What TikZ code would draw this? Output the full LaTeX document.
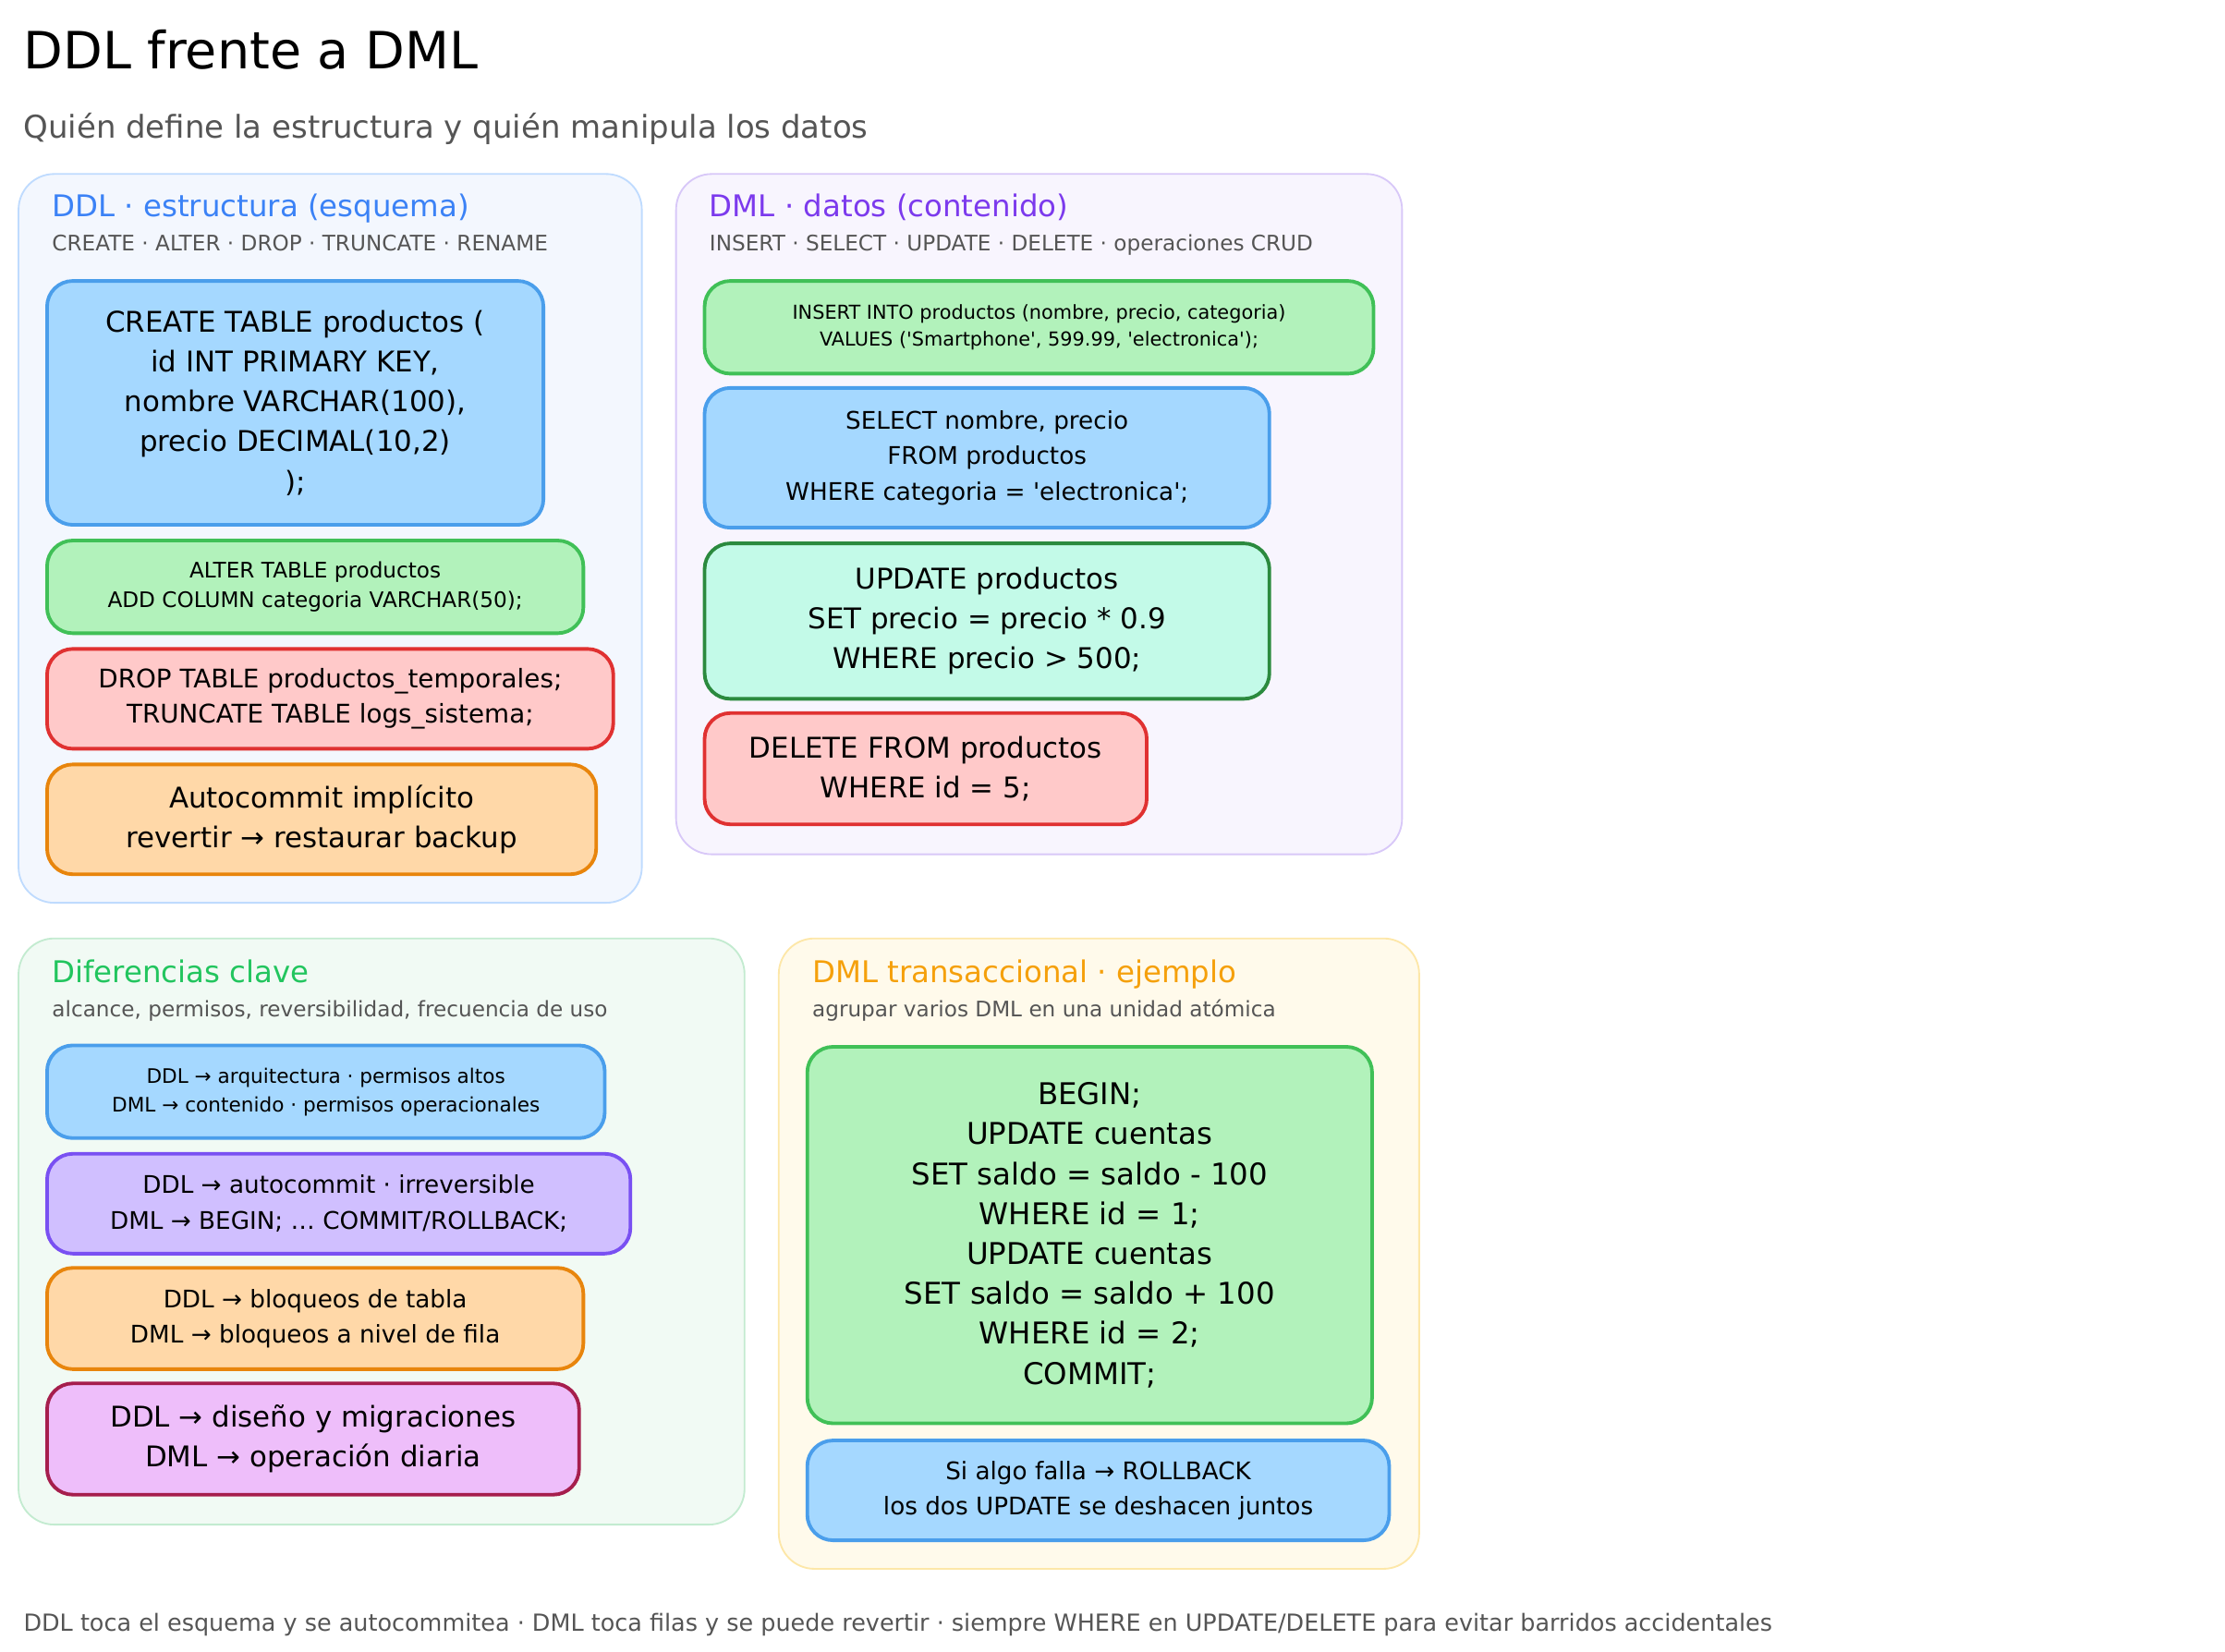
\documentclass[tikz,border=0pt]{standalone}
\usepackage{fontspec}
\setmainfont{DejaVu Sans}
\usepackage{xcolor}
\usetikzlibrary{positioning}

\definecolor{bluefill}{HTML}{A5D8FF}\definecolor{blueline}{HTML}{4A9EEB}
\definecolor{greenfill}{HTML}{B2F2BB}\definecolor{greenline}{HTML}{40C057}
\definecolor{redfill}{HTML}{FFC9C9}\definecolor{redline}{HTML}{E03131}
\definecolor{orangefill}{HTML}{FFD8A8}\definecolor{orangeline}{HTML}{E8850C}
\definecolor{tealfill}{HTML}{C3FAE8}\definecolor{tealline}{HTML}{2B8A3E}
\definecolor{purplefill}{HTML}{D0BFFF}\definecolor{purpleline}{HTML}{7950F2}
\definecolor{pinkfill}{HTML}{EEBEFA}\definecolor{pinkline}{HTML}{A61E4D}
\definecolor{textgray}{HTML}{555555}
\definecolor{ddlbg}{HTML}{F3F7FE}\definecolor{ddledge}{HTML}{BFDBFE}
\definecolor{dmlbg}{HTML}{F8F5FE}\definecolor{dmledge}{HTML}{D8C8F8}
\definecolor{difbg}{HTML}{F1FAF4}\definecolor{difedge}{HTML}{C3EBD0}
\definecolor{txbg}{HTML}{FFFAEB}\definecolor{txedge}{HTML}{FDE7A8}
\definecolor{ddlhead}{HTML}{3B82F6}\definecolor{dmlhead}{HTML}{7C3AED}
\definecolor{difhead}{HTML}{22C55E}\definecolor{txhead}{HTML}{F5A00B}

\tikzset{
  panel/.style 2 args={draw=#2, fill=#1, line width=1.2pt, rounded corners=25pt},
  box/.style={draw=#1line, fill=#1fill, line width=2.5pt, rounded corners=18pt,
              align=center, inner sep=0pt},
  head/.style={anchor=base west, text=#1, font=\fontsize{21}{25}\selectfont},
  sub/.style={anchor=base west, text=textgray, font=\fontsize{15}{18}\selectfont},
}

\newcommand{\fs}[2]{\fontsize{#1}{#2}\selectfont}

\begin{document}
\begin{tikzpicture}[x=1pt,y=-1pt]
  \useasboundingbox (0,0) rectangle (1560,1158);

  % Title
  \node[anchor=base west, font=\fs{36}{40}] (title) at (13,48) {DDL frente a DML};
  \node[anchor=base west, font=\fs{22}{26}, text=textgray] (subtitle) at (13,97)
    {Quién define la estructura y quién manipula los datos};

  % DDL panel
  \draw[panel={ddlbg}{ddledge}] (13,122) rectangle (450,633);
  \node[head=ddlhead] (ddlhead) at (33,152) {DDL · estructura (esquema)};
  \node[sub] (ddlsub) at (33,176) {CREATE · ALTER · DROP · TRUNCATE · RENAME};
  \node[box=blue, minimum width=348, minimum height=171, font=\fs{20}{28}] (create) at (207,282.5)
    {CREATE TABLE productos (\\ id INT PRIMARY KEY,\\ nombre VARCHAR(100),\\ precio DECIMAL(10,2)\\ );};
  \node[box=green, minimum width=376, minimum height=65, font=\fs{15}{21}] (alter) at (221,411.5)
    {ALTER TABLE productos\\ ADD COLUMN categoria VARCHAR(50);};
  \node[box=red, minimum width=397, minimum height=70, font=\fs{18}{25}] (drop) at (231.5,490)
    {DROP TABLE productos\_temporales;\\ TRUNCATE TABLE logs\_sistema;};
  \node[box=orange, minimum width=385, minimum height=77, font=\fs{20}{28}] (autocommit) at (225.5,574.5)
    {Autocommit implícito\\ revertir → restaurar backup};

  % DML panel
  \draw[panel={dmlbg}{dmledge}] (474,122) rectangle (983,599);
  \node[head=dmlhead] (dmlhead) at (494,152) {DML · datos (contenido)};
  \node[sub] (dmlsub) at (494,176) {INSERT · SELECT · UPDATE · DELETE · operaciones CRUD};
  \node[box=green, minimum width=469, minimum height=65, font=\fs{13.5}{19}] (insert) at (728.5,229.5)
    {INSERT INTO productos (nombre, precio, categoria)\\ VALUES (\textquotesingle Smartphone\textquotesingle, 599.99, \textquotesingle electronica\textquotesingle);};
  \node[box=blue, minimum width=396, minimum height=98, font=\fs{17}{25}] (select) at (692,321)
    {SELECT nombre, precio\\ FROM productos\\ WHERE categoria = \textquotesingle electronica\textquotesingle;};
  \node[box=teal, minimum width=396, minimum height=109, font=\fs{20}{28}] (update) at (692,435.5)
    {UPDATE productos\\ SET precio = precio * 0.9\\ WHERE precio > 500;};
  \node[box=red, minimum width=310, minimum height=78, font=\fs{20}{28}] (delete) at (649,539)
    {DELETE FROM productos\\ WHERE id = 5;};

  % Diferencias panel
  \draw[panel={difbg}{difedge}] (13,658) rectangle (522,1069);
  \node[head=difhead] (difhead) at (33,689) {Diferencias clave};
  \node[sub] (difsub) at (33,713) {alcance, permisos, reversibilidad, frecuencia de uso};
  \node[box=blue, minimum width=391, minimum height=65, font=\fs{14}{20}] (scope) at (228.5,765.5)
    {DDL → arquitectura · permisos altos\\ DML → contenido · permisos operacionales};
  \node[box=purple, minimum width=409, minimum height=70, font=\fs{17}{25}] (commit) at (237.5,844)
    {DDL → autocommit · irreversible\\ DML → BEGIN; … COMMIT/ROLLBACK;};
  \node[box=orange, minimum width=376, minimum height=71, font=\fs{17}{25}] (locks) at (221,924.5)
    {DDL → bloqueos de tabla\\ DML → bloqueos a nivel de fila};
  \node[box=pink, minimum width=373, minimum height=78, font=\fs{20}{28}] (usage) at (219.5,1009)
    {DDL → diseño y migraciones\\ DML → operación diaria};

  % Transaccional panel
  \draw[panel={txbg}{txedge}] (546,658) rectangle (995,1100);
  \node[head=txhead] (txhead) at (566,689) {DML transaccional · ejemplo};
  \node[sub] (txsub) at (566,713) {agrupar varios DML en una unidad atómica};
  \node[box=green, minimum width=396, minimum height=264, font=\fs{21}{28}] (tx) at (764,866)
    {BEGIN;\\ UPDATE cuentas\\ SET saldo = saldo - 100\\ WHERE id = 1;\\ UPDATE cuentas\\ SET saldo = saldo + 100\\ WHERE id = 2;\\ COMMIT;};
  \node[box=blue, minimum width=408, minimum height=70, font=\fs{17}{25}] (rollback) at (770,1045)
    {Si algo falla → ROLLBACK\\ los dos UPDATE se deshacen juntos};

  % Footer
  \node[anchor=base west, font=\fs{16.5}{20}, text=textgray] (footer) at (13,1144)
    {DDL toca el esquema y se autocommitea · DML toca filas y se puede revertir · siempre WHERE en UPDATE/DELETE para evitar barridos accidentales};
\end{tikzpicture}
\end{document}
